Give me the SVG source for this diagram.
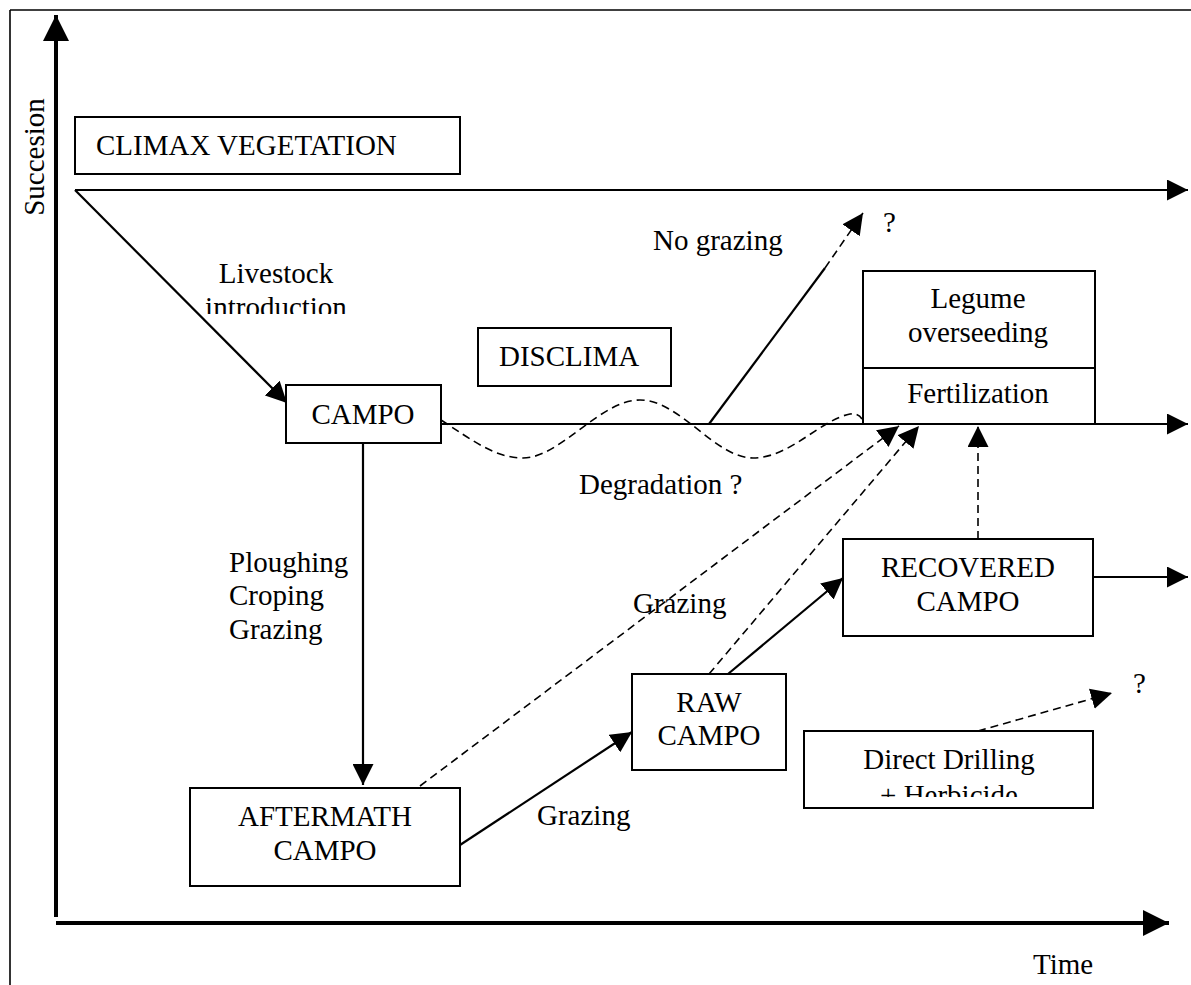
<svg xmlns="http://www.w3.org/2000/svg" width="1191" height="985" viewBox="0 0 1191 985">
<style>
text{font-family:"Liberation Serif","Times New Roman",serif;font-size:29px;fill:#000}
.m{text-anchor:middle}
.box{fill:#fff;stroke:#000;stroke-width:2}
.ln{fill:none;stroke:#000;stroke-width:2.2}
.ds{fill:none;stroke:#000;stroke-width:1.6;stroke-dasharray:8 5}
.ax{fill:none;stroke:#000;stroke-width:4}
</style>
<defs>
<marker id="ah" viewBox="0 0 10 10" refX="10" refY="5" markerUnits="userSpaceOnUse" markerWidth="21" markerHeight="21" orient="auto"><path d="M0,0 L10,5 L0,10 z" fill="#000"/></marker>
<marker id="ahb" viewBox="0 0 10 10" refX="10" refY="5" markerUnits="userSpaceOnUse" markerWidth="26" markerHeight="26" orient="auto"><path d="M0,0 L10,5 L0,10 z" fill="#000"/></marker>
<clipPath id="c1"><rect x="150" y="250" width="260" height="64"/></clipPath>
<clipPath id="c2"><rect x="805" y="732" width="287" height="65"/></clipPath>
</defs>
<g id="frame">
<line x1="10" y1="10" x2="1191" y2="10" stroke="#000" stroke-width="1.6"/>
<line x1="10" y1="10" x2="10" y2="985" stroke="#000" stroke-width="1.6"/>
</g>
<g id="axes">
<line class="ax" x1="56" y1="917" x2="56" y2="15" marker-end="url(#ahb)"/>
<line class="ax" x1="56" y1="923" x2="1169" y2="923" marker-end="url(#ahb)"/>
<text transform="translate(44,157) rotate(-90)" class="m">Succesion</text>
<text x="1033" y="974">Time</text>
</g>
<g id="connectors">
<line class="ln" x1="75" y1="190" x2="1188" y2="190" stroke-width="3" marker-end="url(#ah)"/>
<line class="ln" x1="75" y1="190" x2="287" y2="403" marker-end="url(#ah)"/>
<line class="ln" x1="441" y1="424" x2="1188" y2="424" marker-end="url(#ah)"/>
<path class="ds" d="M441,420 C472,440 495,458 523,458 C560,458 600,400 640,400 C680,400 715,458 753,458 C790,458 820,420 850,414 Q858,413 862,419"/>
<path class="ln" d="M709,424 L825,268"/>
<path class="ds" d="M825,268 L863,213" marker-end="url(#ah)"/>
<line class="ln" x1="363" y1="444" x2="363" y2="785" marker-end="url(#ah)"/>
<line class="ds" x1="420" y1="786" x2="899" y2="426" marker-end="url(#ah)"/>
<line class="ln" x1="460" y1="845" x2="632" y2="732" marker-end="url(#ah)"/>
<line class="ds" x1="709" y1="674" x2="919" y2="426" marker-end="url(#ah)"/>
<line class="ln" x1="728" y1="674" x2="843" y2="578" marker-end="url(#ah)"/>
<line class="ds" x1="978" y1="539" x2="978" y2="426" marker-end="url(#ah)"/>
<line class="ln" x1="1093" y1="577" x2="1188" y2="577" marker-end="url(#ah)"/>
<line class="ds" x1="978" y1="731" x2="1112" y2="693" marker-end="url(#ah)"/>
</g>
<g id="labels">
<text class="m" x="276" y="283">Livestock</text>
<text class="m" x="276" y="317" clip-path="url(#c1)">introduction</text>
<text x="653" y="250">No grazing</text>
<text x="883" y="232">?</text>
<text x="579" y="494">Degradation ?</text>
<text x="229" y="572">Ploughing</text>
<text x="229" y="605">Croping</text>
<text x="229" y="639">Grazing</text>
<text x="633" y="613">Grazing</text>
<text x="537" y="825">Grazing</text>
<text x="1133" y="693">?</text>
</g>
<g id="climax">
<rect class="box" x="75" y="117" width="385" height="57"/>
<text x="96" y="155">CLIMAX VEGETATION</text>
</g>
<g id="disclima">
<rect class="box" x="478" y="328" width="193" height="58"/>
<text x="499" y="366">DISCLIMA</text>
</g>
<g id="campo">
<rect class="box" x="286" y="385" width="155" height="58"/>
<text class="m" x="363" y="424">CAMPO</text>
</g>
<g id="legume">
<rect class="box" x="863" y="271" width="232" height="153"/>
<line x1="863" y1="368" x2="1095" y2="368" stroke="#000" stroke-width="2"/>
<text class="m" x="978" y="308">Legume</text>
<text class="m" x="978" y="342">overseeding</text>
<text class="m" x="978" y="403">Fertilization</text>
</g>
<g id="aftermath">
<rect class="box" x="190" y="788" width="270" height="98"/>
<text class="m" x="325" y="826">AFTERMATH</text>
<text class="m" x="325" y="860">CAMPO</text>
</g>
<g id="raw">
<rect class="box" x="632" y="674" width="154" height="96"/>
<text class="m" x="709" y="712">RAW</text>
<text class="m" x="709" y="745">CAMPO</text>
</g>
<g id="recovered">
<rect class="box" x="843" y="539" width="250" height="97"/>
<text class="m" x="968" y="577">RECOVERED</text>
<text class="m" x="968" y="611">CAMPO</text>
</g>
<g id="direct">
<rect class="box" x="804" y="731" width="289" height="77"/>
<text class="m" x="949" y="769">Direct Drilling</text>
<text class="m" x="949" y="805" clip-path="url(#c2)">+ Herbicide</text>
</g>
</svg>
